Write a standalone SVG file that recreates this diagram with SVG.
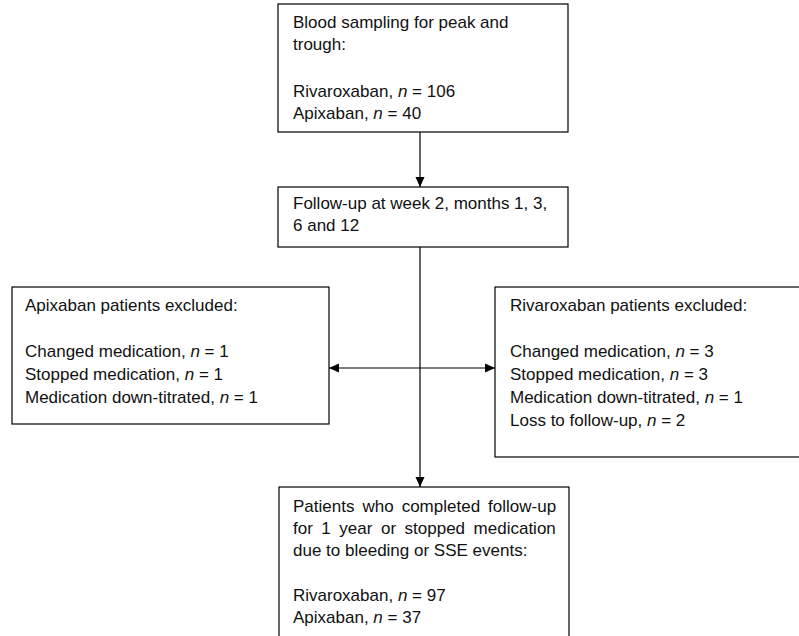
<svg xmlns="http://www.w3.org/2000/svg" width="799" height="636" viewBox="0 0 799 636">
  <style>
    .box { fill: #ffffff; stroke: #000000; stroke-width: 1.2; }
    .t { font-family: "Liberation Sans", Arial, sans-serif; font-size: 17px; fill: #111111; }
    .i { font-style: italic; }
    .c { stroke: #000000; stroke-width: 1.2; fill: none; }
  </style>
  <defs>
    <marker id="ah" viewBox="0 0 10 10" refX="10" refY="5" markerWidth="10" markerHeight="10" markerUnits="userSpaceOnUse" orient="auto-start-reverse">
      <path d="M0,0.5 L10,5 L0,9.5 z" fill="#000000"/>
    </marker>
  </defs>
  <rect width="799" height="636" fill="#ffffff"/>

  <g id="connectors">
    <line class="c" x1="420" y1="132" x2="420" y2="187" marker-end="url(#ah)"/>
    <line class="c" x1="420" y1="247" x2="420" y2="487" marker-end="url(#ah)"/>
    <line class="c" x1="329" y1="368" x2="495" y2="368" marker-start="url(#ah)" marker-end="url(#ah)"/>
  </g>

  <g id="node-sampling">
    <rect class="box" x="278" y="4" width="290" height="128"/>
    <text class="t" x="293" y="28">Blood sampling for peak and</text>
    <text class="t" x="293" y="50">trough:</text>
    <text class="t" x="293" y="97">Rivaroxaban, <tspan class="i">n</tspan> = 106</text>
    <text class="t" x="293" y="119">Apixaban, <tspan class="i">n</tspan> = 40</text>
  </g>

  <g id="node-followup">
    <rect class="box" x="278" y="187" width="290" height="60"/>
    <text class="t" x="293" y="209">Follow-up at week 2, months 1, 3,</text>
    <text class="t" x="293" y="231">6 and 12</text>
  </g>

  <g id="node-apixaban-excluded">
    <rect class="box" x="12" y="287" width="317" height="137"/>
    <text class="t" x="25" y="311">Apixaban patients excluded:</text>
    <text class="t" x="25" y="357">Changed medication, <tspan class="i">n</tspan> = 1</text>
    <text class="t" x="25" y="380">Stopped medication, <tspan class="i">n</tspan> = 1</text>
    <text class="t" x="25" y="403">Medication down-titrated, <tspan class="i">n</tspan> = 1</text>
  </g>

  <g id="node-rivaroxaban-excluded">
    <rect class="box" x="495" y="287" width="310" height="170"/>
    <text class="t" x="510" y="311">Rivaroxaban patients excluded:</text>
    <text class="t" x="510" y="357">Changed medication, <tspan class="i">n</tspan> = 3</text>
    <text class="t" x="510" y="380">Stopped medication, <tspan class="i">n</tspan> = 3</text>
    <text class="t" x="510" y="403">Medication down-titrated, <tspan class="i">n</tspan> = 1</text>
    <text class="t" x="510" y="426">Loss to follow-up, <tspan class="i">n</tspan> = 2</text>
  </g>

  <g id="node-completed">
    <rect class="box" x="279" y="487" width="290" height="170"/>
    <text class="t" x="293" y="512" word-spacing="3.3">Patients who completed follow-up</text>
    <text class="t" x="293" y="534" word-spacing="3.8">for 1 year or stopped medication</text>
    <text class="t" x="293" y="556">due to bleeding or SSE events:</text>
    <text class="t" x="293" y="601">Rivaroxaban, <tspan class="i">n</tspan> = 97</text>
    <text class="t" x="293" y="623">Apixaban, <tspan class="i">n</tspan> = 37</text>
  </g>
</svg>
